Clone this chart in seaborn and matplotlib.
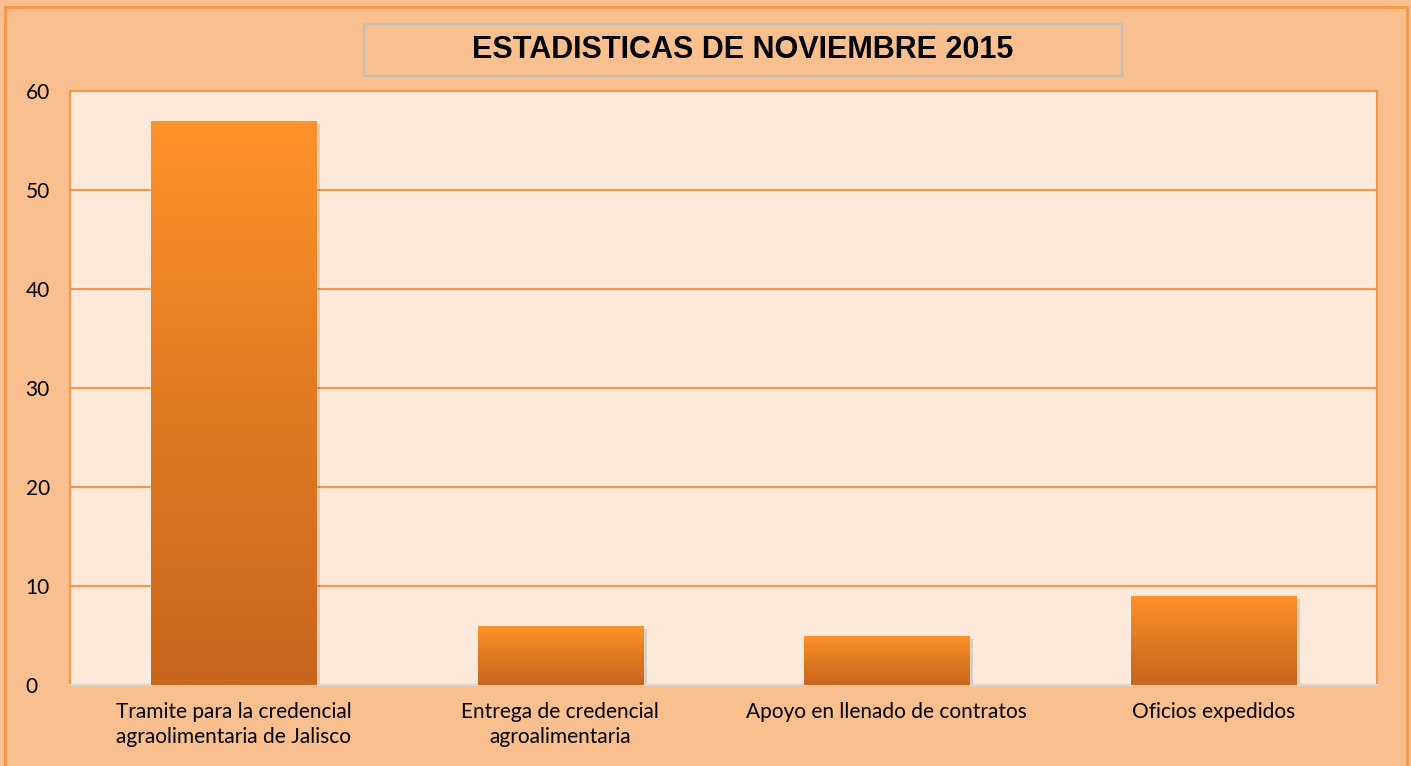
import matplotlib
matplotlib.use('Agg')
import matplotlib.pyplot as plt
import seaborn as sns
import numpy as np
import pandas as pd
from matplotlib.patches import Rectangle
from matplotlib.colors import LinearSegmentedColormap

# datos
categorias = ['Tramite para la credencial\nagraolimentaria de Jalisco',
              'Entrega de credencial\nagroalimentaria',
              'Apoyo en llenado de contratos',
              'Oficios expedidos']
valores = [57, 6, 5, 9]
titulo = 'ESTADISTICAS DE NOVIEMBRE 2015'

fondo_fig = '#F9BF8F'
fondo_ax = '#FDE9D9'
naranja = '#F79646'

sns.set_theme(style='white')
plt.rcParams['font.family'] = ['Lato', 'DejaVu Sans']
plt.rcParams['text.color'] = 'black'

df = pd.DataFrame({'cat': categorias, 'val': valores})

fig = plt.figure(figsize=(14.11, 7.66), dpi=100, facecolor=fondo_fig)
ax = fig.add_axes([70/1411, 1 - 685/766, (1377-70)/1411, (685-91)/766])
ax.set_facecolor(fondo_ax)

sns.barplot(data=df, x='cat', y='val', color='#FF922B', width=0.505, ax=ax, zorder=3)

# degradado en las barras
cmap = LinearSegmentedColormap.from_list('grad', ['#C8661E', '#E07A22', '#FF922B'])
grad = np.linspace(0, 1, 256).reshape(-1, 1)
for bar in ax.patches:
    x0, y0 = bar.get_x(), bar.get_y()
    w, h = bar.get_width(), bar.get_height()
    # sombra
    sh = Rectangle((x0 + 0.012, y0 - 0.35), w, h, facecolor='#000000', alpha=0.12,
                   edgecolor='none', zorder=2)
    ax.add_patch(sh)
    im = ax.imshow(grad, extent=[x0, x0 + w, y0, y0 + h], origin='lower',
                   cmap=cmap, aspect='auto', zorder=4)
    im.set_clip_path(bar)
    bar.set_facecolor('none')

ax.set_xlim(-0.5, 3.5)
ax.set_ylim(0, 60)
ax.set_yticks(range(0, 61, 10))
ax.yaxis.grid(True, color=naranja, linewidth=1.5, zorder=1)
ax.set_axisbelow(True)
ax.set_xlabel('')
ax.set_ylabel('')
ax.tick_params(axis='both', length=0, labelsize=15, colors='black')
ax.tick_params(axis='x', pad=12)
ax.tick_params(axis='y', pad=32)
for lab in ax.get_yticklabels():
    lab.set_horizontalalignment('left')
for lab in ax.get_xticklabels():
    lab.set_linespacing(1.35)

for s in ['top', 'right', 'left']:
    ax.spines[s].set_color(naranja)
    ax.spines[s].set_linewidth(1.5)
ax.spines['bottom'].set_color('#D0D8E0')
ax.spines['bottom'].set_linewidth(1.5)

# borde exterior
fig.patches.append(Rectangle((5/1411, -0.01), (1407-5)/1411, 1 - 7/766 + 0.01,
                             transform=fig.transFigure, facecolor='none',
                             edgecolor=naranja, linewidth=2))

# caja del titulo
fig.patches.append(Rectangle((364/1411, 1 - 76/766), (1122-364)/1411, 52/766,
                             transform=fig.transFigure, facecolor='none',
                             edgecolor='#BFBFBF', linewidth=1.5))
fig.text(743/1411, 1 - 50/766, titulo, ha='center', va='center', color='black',
         fontsize=22, fontweight='bold', family=['Liberation Sans', 'DejaVu Sans'])

fig.savefig('out.png', dpi=100, facecolor=fondo_fig)
